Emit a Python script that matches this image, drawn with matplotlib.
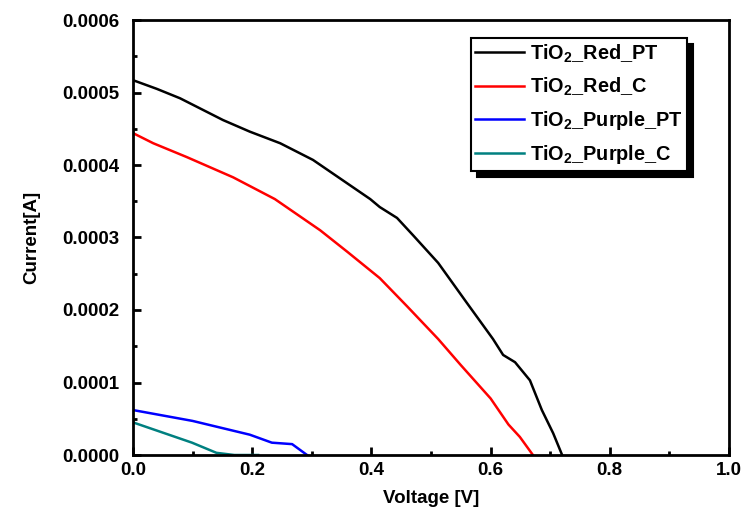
import matplotlib
matplotlib.use("Agg")
import matplotlib.pyplot as plt
from matplotlib.ticker import MultipleLocator, FormatStrFormatter

plt.rcParams['font.family'] = ['Liberation Sans', 'DejaVu Sans']
plt.rcParams['font.weight'] = 'bold'
plt.rcParams['mathtext.fontset'] = 'custom'
plt.rcParams['mathtext.rm'] = 'Liberation Sans:bold'
plt.rcParams['mathtext.bf'] = 'Liberation Sans:bold'
plt.rcParams['mathtext.default'] = 'bf'

# Data (Voltage [V], Current [A])
red_pt_v = [0.0, 0.04, 0.079, 0.151, 0.196, 0.247, 0.302, 0.35, 0.398, 0.414, 0.443, 0.47, 0.512,
            0.56, 0.604, 0.621, 0.641, 0.666, 0.686, 0.705, 0.72]
red_pt_i = [0.000517, 0.000505, 0.000492, 0.000462, 0.000446, 0.00043, 0.000407, 0.00038, 0.000353,
            0.000342, 0.000327, 0.000303, 0.000265, 0.00021, 0.00016, 0.000138, 0.000128, 0.000103,
            0.000062, 0.00003, 0.0]

red_c_v = [0.0, 0.034, 0.09, 0.168, 0.238, 0.314, 0.36, 0.414, 0.46, 0.512, 0.55, 0.6, 0.63, 0.649, 0.671]
red_c_i = [0.000444, 0.00043, 0.000411, 0.000383, 0.000353, 0.00031, 0.00028, 0.000244, 0.000205,
           0.00016, 0.000124, 0.000078, 0.000042, 0.000025, 0.0]

purple_pt_v = [0.0, 0.1, 0.196, 0.233, 0.267, 0.292]
purple_pt_i = [0.000062, 0.000047, 0.000028, 0.000017, 0.000015, 0.0]

purple_c_v = [0.0, 0.099, 0.14, 0.17, 0.21]
purple_c_i = [0.000045, 0.000017, 0.000003, 0.0, 0.0]

labels = [r'TiO$_\mathbf{2}$_Red_PT', r'TiO$_\mathbf{2}$_Red_C',
          r'TiO$_\mathbf{2}$_Purple_PT', r'TiO$_\mathbf{2}$_Purple_C']
colors = ['#000000', '#ff0000', '#0000ff', '#008080']

fig = plt.figure(figsize=(7.44, 5.17), dpi=100)
ax = fig.add_axes([133/744, 1 - 455/517, (729-133)/744, (455-20)/517])

ax.plot(red_pt_v, red_pt_i, color=colors[0], lw=1.8, label=labels[0])
ax.plot(red_c_v, red_c_i, color=colors[1], lw=1.8, label=labels[1])
ax.plot(purple_pt_v, purple_pt_i, color=colors[2], lw=1.8, label=labels[2])
ax.plot(purple_c_v, purple_c_i, color=colors[3], lw=1.8, label=labels[3])

ax.set_xlim(0, 1.0)
ax.set_ylim(0, 0.0006)
ax.xaxis.set_major_locator(MultipleLocator(0.2))
ax.xaxis.set_minor_locator(MultipleLocator(0.1))
ax.yaxis.set_major_locator(MultipleLocator(0.0001))
ax.yaxis.set_minor_locator(MultipleLocator(0.00005))
ax.xaxis.set_major_formatter(FormatStrFormatter('%.1f'))
ax.yaxis.set_major_formatter(FormatStrFormatter('%.4f'))
ax.tick_params(which='both', direction='in', top=False, right=False, width=2, labelsize=13.5)
ax.tick_params(which='major', length=6)
ax.tick_params(which='minor', length=3)
ax.tick_params(axis='x', which='major', pad=5)
ax.tick_params(axis='y', which='major', pad=10)
for s in ax.spines.values():
    s.set_linewidth(2)

ax.set_xlabel('Voltage [V]', fontsize=13.5, fontweight='bold', labelpad=8)
ax.set_ylabel('Current[A]', fontsize=13.5, fontweight='bold', labelpad=16)

leg = ax.legend(loc='upper left', bbox_to_anchor=(0.567, 0.959), borderaxespad=0, fontsize=14.3,
                frameon=True, fancybox=False, edgecolor='black', handlelength=2.45, handletextpad=0.3,
                labelspacing=0.56, borderpad=0.22,
                shadow={'ox': 4.5, 'oy': -4.5, 'color': 'black', 'alpha': 1})
leg.get_frame().set_linewidth(1.5)

fig.savefig('out.png', dpi=100)
